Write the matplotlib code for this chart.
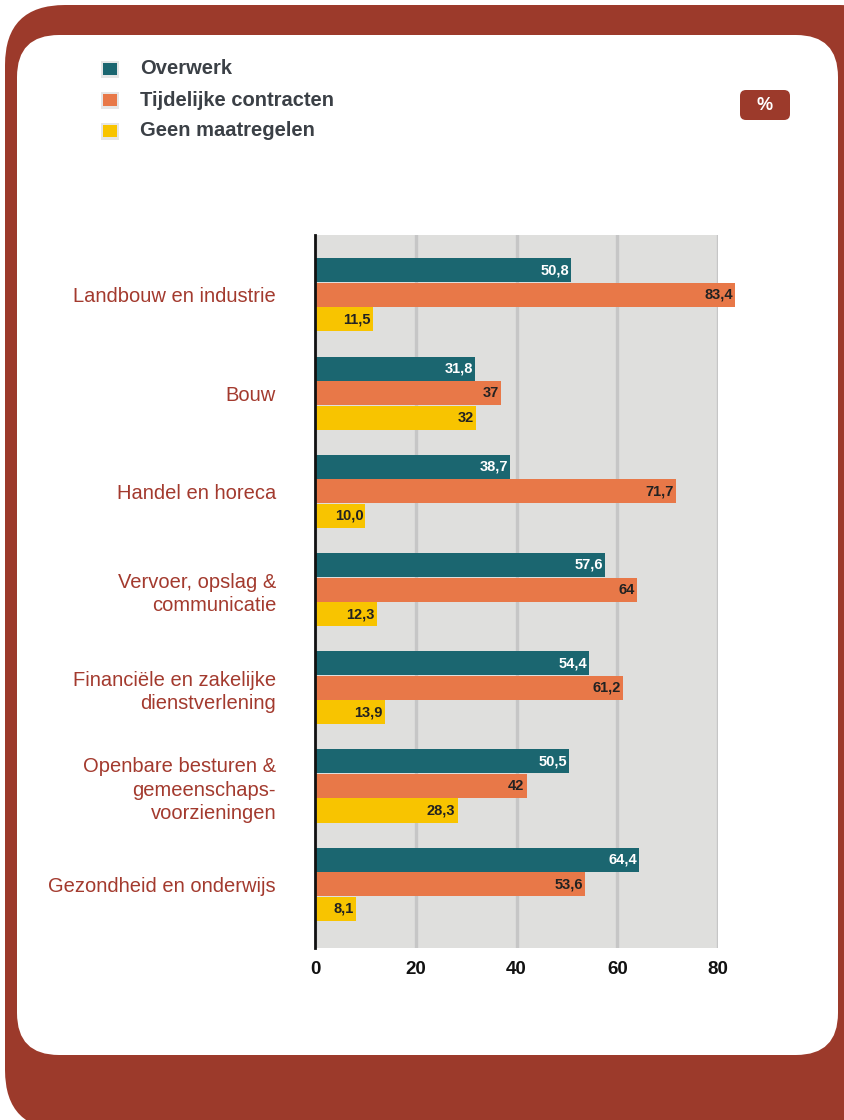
import numpy as np
import matplotlib
matplotlib.use("Agg")
import matplotlib.pyplot as plt
from matplotlib.patches import FancyBboxPatch, Rectangle
from matplotlib.transforms import Affine2D
from matplotlib import font_manager

### data
sectors = ['Landbouw en industrie', 'Bouw', 'Handel en horeca',
           'Vervoer, opslag &\ncommunicatie',
           'Financiële en zakelijke\ndienstverlening',
           'Openbare besturen &\ngemeenschaps-\nvoorzieningen',
           'Gezondheid en onderwijs']
overwerk = [50.8, 31.8, 38.7, 57.6, 54.4, 50.5, 64.4]
tijdelijk = [83.4, 37, 71.7, 64, 61.2, 42, 53.6]
geen = [11.5, 32, 10.0, 12.3, 13.9, 28.3, 8.1]
labels_overwerk = ['50,8', '31,8', '38,7', '57,6', '54,4', '50,5', '64,4']
labels_tijdelijk = ['83,4', '37', '71,7', '64', '61,2', '42', '53,6']
labels_geen = ['11,5', '32', '10,0', '12,3', '13,9', '28,3', '8,1']
series_names = ['Overwerk', 'Tijdelijke contracten', 'Geen maatregelen']
xticks = [0, 20, 40, 60, 80]

### colours
teal = '#1B6670'
orange = '#E87848'
yellow = '#F8C400'
darkred = '#9C3A2B'
labelred = '#A33A2E'

names = {f.name for f in font_manager.fontManager.ttflist}
narrow = 'Liberation Sans Narrow' if 'Liberation Sans Narrow' in names else 'Liberation Sans'
plt.rcParams['font.family'] = [narrow, 'DejaVu Sans']

W, H = 844, 1120
fig = plt.figure(figsize=(W / 100, H / 100), dpi=100)
fig.patch.set_facecolor('white')

# pixel transform (origin bottom-left)
px = Affine2D().scale(1 / W, 1 / H) + fig.transFigure

def rbox(x0, y0, x1, y1, r, color, z):
    # x0,y0 = top-left, x1,y1 = bottom-right in image pixels (top origin)
    b = H - y1
    t = H - y0
    p = FancyBboxPatch((x0 + r, b + r), (x1 - x0) - 2 * r, (t - b) - 2 * r,
                       boxstyle='round,pad=%d' % r, transform=px,
                       facecolor=color, edgecolor='none', zorder=z)
    fig.patches.append(p)

### frame
rbox(5, 5, 900, 1130, 60, darkred, -3)
rbox(17, 35, 838, 1055, 42, 'white', -2)

### axes
ax = fig.add_axes([315 / W, (H - 948) / H, 403 / W, 713 / H])
ax.set_zorder(5)
ax.set_facecolor('#DFDFDD')
ax.set_xlim(0, 80)
ax.set_ylim(6.65, -0.61)

y = np.arange(len(sectors))
h = 0.245
step = 0.25
bars = []
for off, vals, col in [(-step, overwerk, teal), (0, tijdelijk, orange), (step, geen, yellow)]:
    b = ax.barh(y + off, vals, height=h, color=col, clip_on=False, zorder=3)
    bars.append(b)

for b, labs, tc in [(bars[0], labels_overwerk, 'white'),
                    (bars[1], labels_tijdelijk, '#222222'),
                    (bars[2], labels_geen, '#222222')]:
    for rect, lab in zip(b, labs):
        ax.annotate(lab, (rect.get_width(), rect.get_y() + rect.get_height() / 2),
                    xytext=(-1.5, 0), textcoords='offset points', ha='right', va='center',
                    fontsize=10.5, fontweight='bold', color=tc, zorder=4,
                    annotation_clip=False)

ax.set_xticks(xticks)
ax.set_xticklabels([str(t) for t in xticks], fontsize=13.5, fontweight='bold', color='#111111')
ax.set_yticks(y)
ax.set_yticklabels(sectors, fontsize=14.5, color=labelred, linespacing=1.3)
ax.tick_params(axis='both', length=0)
ax.tick_params(axis='x', pad=9)
ax.tick_params(axis='y', pad=28)
for t in ax.get_yticklabels():
    t.set_horizontalalignment('right')
    t.set_multialignment('right')

ax.grid(axis='x', color='#C6C6C6', linewidth=2.4, zorder=1)
ax.set_axisbelow(True)
for s in ['top', 'right', 'bottom']:
    ax.spines[s].set_visible(False)
ax.spines['left'].set_color('#111111')
ax.spines['left'].set_linewidth(2)
ax.spines['left'].set_zorder(5)

### legend
for i, (name, col) in enumerate(zip(series_names, [teal, orange, yellow])):
    yc = 69 + i * 31
    fig.patches.append(Rectangle((101, H - yc - 9), 18, 17, transform=px, facecolor='#E6E6E6',
                                 edgecolor='none', zorder=2))
    fig.patches.append(Rectangle((103, H - yc - 6), 14, 12, transform=px, facecolor=col,
                                 edgecolor='none', zorder=3))
    fig.text(140 / W, 1 - yc / H, name, fontsize=14.5, fontweight='bold', color='#3B4046',
             ha='left', va='center', zorder=3)

### % badge
rbox(740, 90, 790, 120, 6, darkred, 2)
fig.text(765 / W, 1 - 105 / H, '%', fontsize=13, fontweight='bold', color='white',
         ha='center', va='center', zorder=3)

plt.savefig('out.png', dpi=100)
